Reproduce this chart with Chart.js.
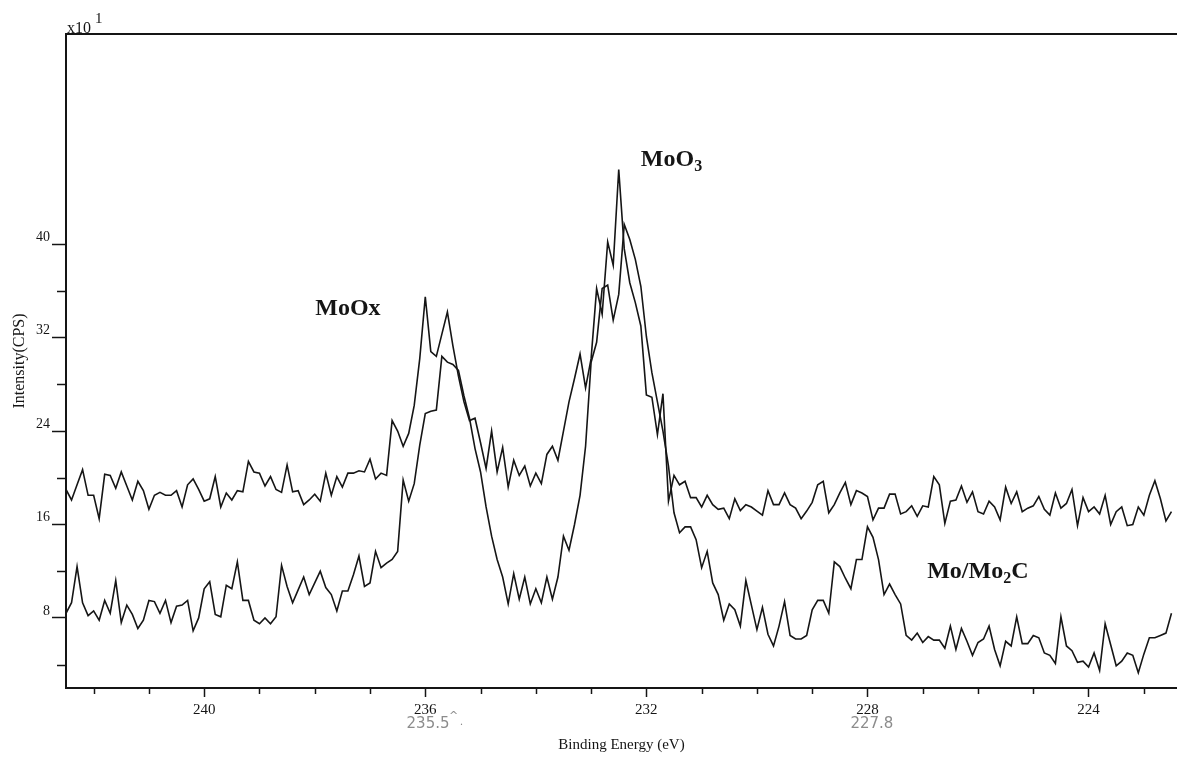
<!DOCTYPE html>
<html>
<head>
<meta charset="utf-8">
<script src="https://cdn.jsdelivr.net/npm/chart.js@4.4.1/dist/chart.umd.min.js"></script>
<style>
  html, body { margin: 0; padding: 0; background: #fff; }
  #wrap { width: 1177px; height: 757px; position: relative; }
  canvas { display: block; }
</style>
</head>
<body>
<div id="wrap"><canvas id="c" width="1177" height="757"></canvas></div>
<script>
// Mo 3d region, binding energy grid (eV), scanned from high to low
const energyStart = 242.5;
const energyStep = 0.1;

// Intensity (x10 CPS) of the two spectra, one value per energy step
const spectrumUpper = [
  19.0, 18.1, 19.4, 20.7, 18.5, 18.5, 16.5, 20.3, 20.2, 19.1,
  20.5, 19.3, 18.1, 19.7, 18.9, 17.3, 18.5, 18.75, 18.5, 18.5,
  18.9, 17.5, 19.4, 19.9, 19.0, 18.0, 18.2, 20.1, 17.5, 18.7,
  18.1, 18.9, 18.8, 21.4, 20.5, 20.4, 19.3, 20.1, 19.0, 18.75,
  21.1, 18.8, 18.9, 17.7, 18.1, 18.6, 18.0, 20.4, 18.5, 20.1,
  19.2, 20.4, 20.4, 20.6, 20.5, 21.6, 19.9, 20.4, 20.2, 24.9,
  24.0, 22.7, 23.8, 26.2, 30.2, 35.5, 30.8, 30.4, 32.3, 34.2,
  31.3, 28.7, 26.5, 24.9, 25.1, 23.0, 20.8, 24.0, 20.5, 22.6,
  19.2, 21.5, 20.2, 21.0, 19.3, 20.4, 19.5, 22.0, 22.7, 21.5,
  24.0, 26.5, 28.5, 30.6, 27.7, 30.2, 36.2, 34.0, 40.2, 38.2,
  46.4, 39.6, 36.7, 35.0, 33.0, 27.1, 26.9, 23.7, 27.2, 18.0,
  20.2, 19.4, 19.7, 18.3, 18.3, 17.5, 18.5, 17.7, 17.3, 17.4,
  16.5, 18.2, 17.2, 17.7, 17.5, 17.15, 16.8, 18.9, 17.7, 17.7,
  18.7, 17.7, 17.4, 16.5, 17.15, 17.9, 19.4, 19.7, 17.0, 17.7,
  18.7, 19.6, 17.7, 18.9, 18.7, 18.4,
  16.4, 17.4, 17.4, 18.6, 18.6, 16.9, 17.1, 17.6, 16.7, 17.6,
  17.5, 20.1, 19.4, 16.1, 18.0, 18.1, 19.3, 17.9, 18.8, 17.1,
  16.9, 18.0, 17.5, 16.4, 19.2, 17.8, 18.8, 17.1, 17.4, 17.6,
  18.4, 17.3, 16.8, 18.7, 17.4, 17.8, 19.0, 15.9, 18.3, 17.1,
  17.5, 16.9, 18.5, 16.0, 17.1, 17.5, 15.9, 16.0, 17.5, 16.8,
  18.5, 19.75, 18.2, 16.3, 17.1
];

const spectrumLower = [
  8.4, 9.3, 12.4, 9.3, 8.2, 8.6, 7.8, 9.5, 8.4, 11.2,
  7.6, 9.1, 8.3, 7.1, 7.8, 9.5, 9.4, 8.4, 9.5, 7.6,
  9.0, 9.1, 9.5, 6.9, 8.0, 10.5, 11.1, 8.3, 8.1, 10.8,
  10.5, 12.8, 9.5, 9.5, 7.8, 7.5, 8.0, 7.5, 8.1, 12.5,
  10.7, 9.3, 10.4, 11.5, 10.0, 11.0, 12.0, 10.6, 10.0, 8.6,
  10.3, 10.3, 11.7, 13.3, 10.7, 11.0, 13.7, 12.3, 12.7, 13.0,
  13.7, 19.8, 18.0, 19.5, 22.8, 25.5, 25.7, 25.8, 30.4, 29.9,
  29.7, 29.2, 27.0, 25.1, 22.5, 20.5, 17.5, 15.0, 13.0, 11.5,
  9.2, 11.8, 9.6, 11.5, 9.2, 10.5, 9.3, 11.5, 9.6, 11.5,
  15.0, 13.8, 16.0, 18.5, 22.7, 29.9, 31.6, 36.2, 36.5, 33.5,
  35.7, 41.7, 40.4, 38.7, 36.4, 32.1, 29.0, 26.5, 24.0, 21.0,
  17.0,
  15.3, 15.8, 15.8, 14.7, 12.3, 13.7, 11.0, 10.0, 7.8, 9.2,
  8.7, 7.3, 11.2, 9.1, 7.0, 8.9, 6.6, 5.6, 7.3, 9.4,
  6.5, 6.2, 6.2, 6.5, 8.7, 9.5, 9.5, 8.4, 12.8, 12.4,
  11.4, 10.5, 13.0, 13.0, 15.8, 14.9, 13.0, 10.0, 10.9, 10.0,
  9.2, 6.5, 6.1, 6.7, 5.9, 6.4, 6.1, 6.1, 5.4, 7.3,
  5.3, 7.1, 6.0, 4.8, 5.9, 6.2, 7.3, 5.3, 3.9, 6.0,
  5.6, 8.1, 5.8, 5.8, 6.5, 6.3, 5.0, 4.8, 4.1, 8.1,
  5.6, 5.2, 4.2, 4.3, 3.8, 5.0, 3.5, 7.5, 5.7, 3.9,
  4.3, 5.0, 4.8, 3.3, 4.9, 6.3, 6.3, 6.5, 6.7, 8.4
];

// Axis ticks
const energyTicks = [240, 236, 232, 228, 224];
const energyMinorTicks = [242, 241, 239, 238, 237, 235, 234, 233, 231, 230, 229, 227, 226, 225, 223];
const intensityTicks = [8, 16, 24, 32, 40];
const intensityMinorTicks = [4, 12, 20, 28, 36];

// Peak assignments: text pieces (flag 1 = subscript), baseline anchored at [energy, intensity]
const peakLabels = [
  { parts: [['MoOx', 0]], at: [237.99, 33.9] },
  { parts: [['MoO', 0], ['3', 1]], at: [232.10, 46.7] },
  { parts: [['Mo/Mo', 0], ['2', 1], ['C', 0]], at: [226.92, 11.4] }
];

// Pencil notes under the energy axis: text, energy
const pencilNotes = [
  ['235.5', 235.95],
  ['227.8', 227.92]
];

const energies = spectrumUpper.map((_, i) => +(energyStart - i * energyStep).toFixed(1));
const toPoints = arr => arr.map((v, i) => ({ x: energies[i], y: v }));

const SERIF = '"Liberation Serif", "Times New Roman", serif';
const INK = '#151515';

const decorations = {
  id: 'decorations',
  afterDraw(chart) {
    const { ctx, chartArea: a, scales: { x, y } } = chart;
    ctx.save();
    ctx.strokeStyle = INK;
    ctx.fillStyle = INK;

    // top frame line
    ctx.lineWidth = 2;
    ctx.beginPath();
    ctx.moveTo(a.left - 1, a.top);
    ctx.lineTo(a.right, a.top);
    ctx.stroke();

    // minor tick marks
    ctx.lineWidth = 1.5;
    energyMinorTicks.forEach(v => {
      const px = Math.round(x.getPixelForValue(v)) + 0.5;
      ctx.beginPath();
      ctx.moveTo(px, a.bottom);
      ctx.lineTo(px, a.bottom + 6);
      ctx.stroke();
    });
    intensityMinorTicks.forEach(v => {
      const py = Math.round(y.getPixelForValue(v)) + 0.5;
      ctx.beginPath();
      ctx.moveTo(a.left, py);
      ctx.lineTo(a.left - 9, py);
      ctx.stroke();
    });

    // axis multiplier
    ctx.textBaseline = 'alphabetic';
    ctx.textAlign = 'left';
    ctx.font = '16px ' + SERIF;
    ctx.fillText('x10', a.left + 1, a.top - 1);
    ctx.font = '15px ' + SERIF;
    ctx.fillText('1', a.left + 29, a.top - 11);

    // peak labels
    peakLabels.forEach(lbl => {
      let px = x.getPixelForValue(lbl.at[0]);
      const py = y.getPixelForValue(lbl.at[1]);
      lbl.parts.forEach(([t, sub]) => {
        ctx.font = sub ? 'bold 16px ' + SERIF : 'bold 24px ' + SERIF;
        ctx.fillText(t, px, py + (sub ? 5 : 0));
        px += ctx.measureText(t).width;
      });
    });

    // pencil notes
    ctx.fillStyle = '#8c8c8c';
    ctx.font = '15px "DejaVu Sans", sans-serif';
    ctx.textAlign = 'center';
    pencilNotes.forEach(([t, e], k) => {
      const cx = x.getPixelForValue(e);
      ctx.fillText(t, cx, a.bottom + 40);
      if (k === 0) {
        const w = ctx.measureText(t).width;
        ctx.font = '11px "DejaVu Sans", sans-serif';
        ctx.fillText('^', cx + w / 2 + 4, a.bottom + 31);
        ctx.fillText('.', cx + w / 2 + 12, a.bottom + 37);
        ctx.font = '15px "DejaVu Sans", sans-serif';
      }
    });
    ctx.restore();
  }
};

new Chart(document.getElementById('c'), {
  type: 'line',
  data: {
    datasets: [
      { data: toPoints(spectrumUpper), borderColor: INK, borderWidth: 1.6, pointRadius: 0, tension: 0, fill: false },
      { data: toPoints(spectrumLower), borderColor: INK, borderWidth: 1.6, pointRadius: 0, tension: 0, fill: false }
    ]
  },
  options: {
    responsive: false,
    animation: false,
    events: [],
    layout: { padding: { top: 34, right: 0, left: 0, bottom: 0 } },
    plugins: { legend: { display: false }, tooltip: { enabled: false }, title: { display: false } },
    scales: {
      x: {
        type: 'linear',
        reverse: true,
        min: 222.4,
        max: 242.5,
        afterBuildTicks: s => { s.ticks = energyTicks.map(v => ({ value: v })); },
        afterFit: s => { s.height = 69; },
        grid: { display: true, drawOnChartArea: false, drawTicks: true, tickLength: 9, tickWidth: 1.5, tickColor: INK },
        border: { display: true, color: INK, width: 2 },
        ticks: { color: INK, font: { family: SERIF, size: 15 }, padding: 4, maxRotation: 0, autoSkip: false },
        title: { display: true, text: 'Binding Energy (eV)', color: INK, font: { family: SERIF, size: 15 }, padding: { top: 0, bottom: 3 } }
      },
      y: {
        type: 'linear',
        min: 2,
        max: 58,
        afterBuildTicks: s => { s.ticks = intensityTicks.map(v => ({ value: v })); },
        afterFit: s => { s.width = 66; },
        grid: { display: true, drawOnChartArea: false, drawTicks: true, tickLength: 14, tickWidth: 1.5, tickColor: INK },
        border: { display: true, color: INK, width: 2 },
        ticks: { color: INK, font: { family: SERIF, size: 14 }, padding: 2, labelOffset: -7 },
        title: { display: true, text: 'Intensity(CPS)', color: INK, font: { family: SERIF, size: 16 }, padding: { top: 10, bottom: 0 } }
      }
    }
  },
  plugins: [decorations]
});
</script>
</body>
</html>
